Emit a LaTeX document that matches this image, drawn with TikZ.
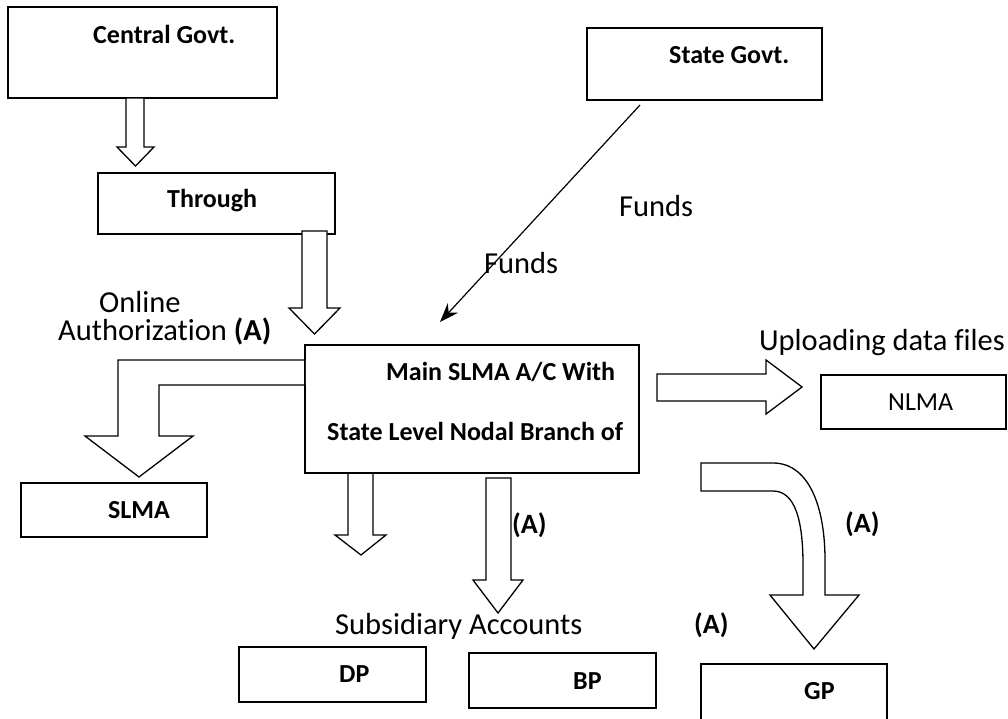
\documentclass[tikz,border=0pt]{standalone}
\usepackage{fontspec}
\setmainfont{Carlito}[Ligatures=NoCommon]
\usetikzlibrary{arrows.meta}
\tikzset{
  box/.style={draw, line width=1.4pt, inner sep=0pt, rectangle},
  blk/.style={draw, line width=1.3pt, line join=miter, fill=white},
  bl/.style={font=\fontsize{26}{30}\selectfont\bfseries, inner sep=0pt},
  tx/.style={font=\fontsize{30.5}{36}\selectfont, inner sep=0pt},
  al/.style={font=\fontsize{28}{32}\selectfont\bfseries, inner sep=0pt},
  nl/.style={font=\fontsize{26}{30}\selectfont, inner sep=0pt},
  fund/.style={line width=1.2pt, -{Stealth[length=19pt,width=14pt]}}
}
\begin{document}
\begin{tikzpicture}[x=1pt,y=-1pt]
\clip (0,0) rectangle (1008,718);
\fill[white] (0,0) rectangle (1008,718);
% boxes
\node[box, minimum width=269pt, minimum height=91pt] (cg) at (142.5,52.5) {};
\node[box, minimum width=237pt, minimum height=61pt] (th) at (216.5,203.5) {};
\node[box, minimum width=235pt, minimum height=72pt] (sg) at (704.5,64) {};
\node[box, minimum width=334pt, minimum height=128pt] (mn) at (472,409) {};
\node[box, minimum width=185pt, minimum height=54pt] (nl) at (913.5,402) {};
\node[box, minimum width=186pt, minimum height=54pt] (sl) at (114,510) {};
\node[box, minimum width=187pt, minimum height=55pt] (dp) at (332.5,674.5) {};
\node[box, minimum width=187pt, minimum height=55pt] (bp) at (562.5,680.5) {};
\node[box, minimum width=186pt, minimum height=70pt] (gp) at (794,699) {};
% box texts
\node[bl, anchor=base west] (tcg) at (93,43) {Central Govt.};
\node[bl, anchor=base west] (tth) at (167,207) {Through};
\node[bl, anchor=base west] (tsg) at (669,63) {State Govt.};
\node[bl, anchor=base west] (tm1) at (386,380) {Main SLMA A/C With};
\node[bl, anchor=base west] (tm2) at (327,440) {State Level Nodal Branch of};
\node[nl, anchor=base west] (tnl) at (888,410) {NLMA};
\node[bl, anchor=base west] (tsl) at (108,518) {SLMA};
\node[bl, anchor=base west] (tdp) at (339,682) {DP};
\node[bl, anchor=base west] (tbp) at (573,689) {BP};
\node[bl, anchor=base west] (tgp) at (804,699) {GP};
% free texts
\node[tx, anchor=base west] (f1) at (619,216) {Funds};
\node[tx, anchor=base west] (f2) at (484,273) {Funds};
\node[tx, anchor=base west] (on) at (99,312) {Online};
\node[tx, anchor=base west] (au) at (58,340) {Authorization \textbf{(A)}};
\node[tx, anchor=base east] (up) at (1005,350) {Uploading data files};
\node[tx, anchor=base west] (sa) at (335,634) {Subsidiary Accounts};
\node[al, anchor=base west] (a1) at (512,533) {(A)};
\node[al, anchor=base west] (a2) at (845,532) {(A)};
\node[al, anchor=base west] (a3) at (694,633) {(A)};
% funds arrow
\coordinate (fs) at (640,105);
\coordinate (fe) at (440,322);
\draw[fund] (fs) -- (fe);
% block arrows
\draw[blk] (126,98) -- (126,147) -- (117,147) -- (135.5,166) -- (154,147) -- (144,147) -- (144,98) -- cycle;
\draw[blk] (302,231) -- (302,308) -- (289,308) -- (314.5,334) -- (340,308) -- (327,308) -- (327,231) -- cycle;
\draw[blk] (305,360) -- (118,360) -- (118,436) -- (85,436) -- (139,477) -- (193,436) -- (159,436) -- (159,385) -- (305,385);
\draw[blk] (348,473) -- (348,535) -- (335,535) -- (361,555) -- (386,535) -- (373,535) -- (373,473);
\draw[blk] (486,478) -- (486,580) -- (473,580) -- (498,613) -- (523,580) -- (511,580) -- (511,478) -- cycle;
\draw[blk] (657,374) -- (766,374) -- (766,360) -- (802,387) -- (766,414) -- (766,401) -- (657,401) -- cycle;
\draw[blk] (701,463) -- (773,463) .. controls (808,463) and (825,505) .. (825,560) -- (825,595) -- (859,595) -- (814,649) -- (770,595) -- (803,595) -- (803,565) .. controls (803,520) and (795,491) .. (773,491) -- (701,491) -- cycle;
% redraw main box border on top
\draw[line width=1.4pt] (mn.north west) rectangle (mn.south east);
\end{tikzpicture}
\end{document}
